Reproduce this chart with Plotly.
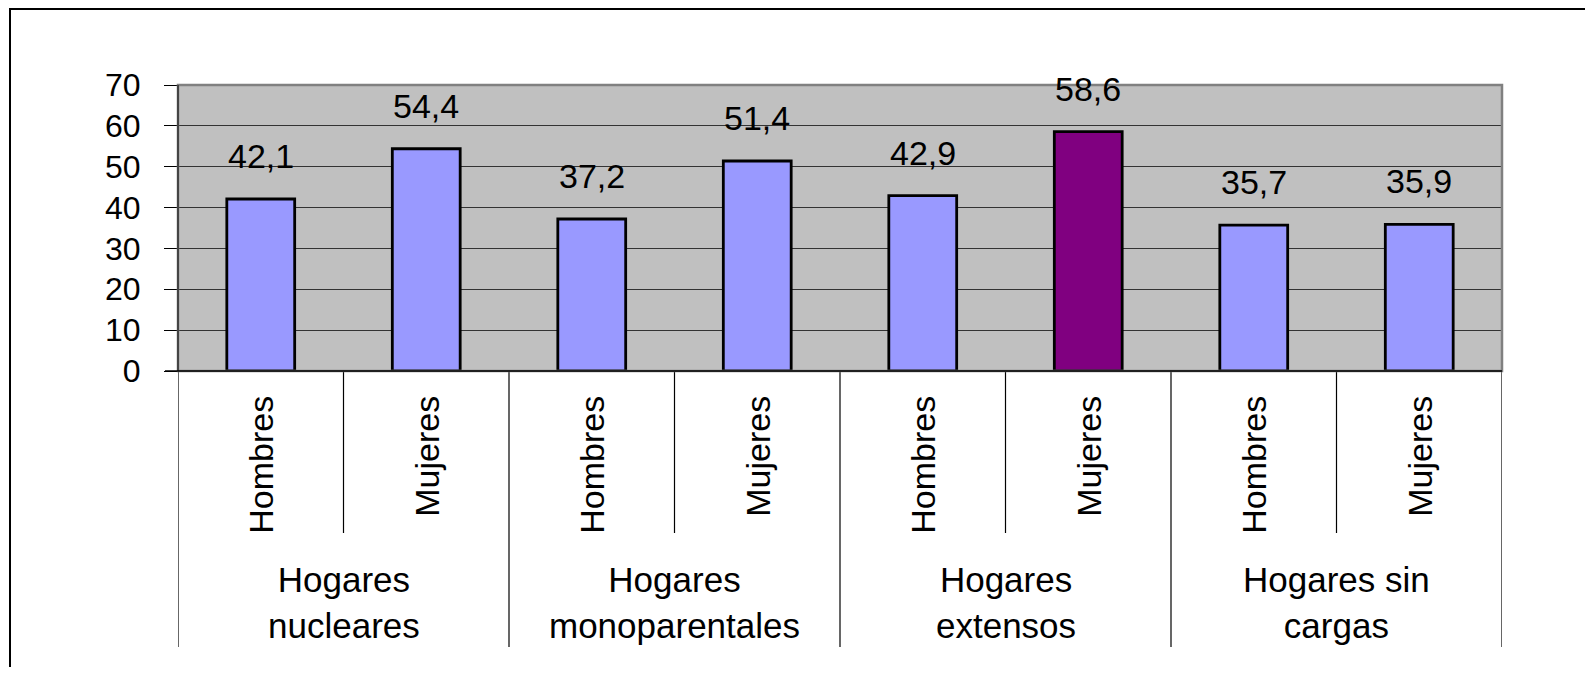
import plotly.graph_objects as go

# ---- data ----
groups = ["Hogares<br>nucleares", "Hogares<br>monoparentales", "Hogares<br>extensos", "Hogares sin<br>cargas"]
sexes = ["Hombres", "Mujeres"]
values = [42.1, 54.4, 37.2, 51.4, 42.9, 58.6, 35.7, 35.9]
value_labels = ["42,1", "54,4", "37,2", "51,4", "42,9", "58,6", "35,7", "35,9"]
y_ticks = [0, 10, 20, 30, 40, 50, 60, 70]

# ---- styles / layout (page pixel coordinates) ----
OFF = 8                       # page body margin offset of the figure div
W, H = 1582, 675 - 2 * OFF    # figure size (no scrollbars)
L, R, T, B = 178, 1502, 85, 371
FONT = "Liberation Sans, Arial, sans-serif"
bar_color = "#9999FF"
highlight_color = "#800080"
highlight_index = 5

def px_x(px):
    return (px - L) / (R - L)

def px_y(py):
    return (B - py) / (B - T)

n = len(values)
xs = list(range(n))
colors = [highlight_color if i == highlight_index else bar_color for i in xs]

fig = go.Figure()
fig.add_trace(go.Bar(
    x=xs, y=values, width=0.41,
    marker=dict(color=colors, line=dict(color="black", width=2.8)),
    hoverinfo="skip", showlegend=False,
))

annotations = []
for i in xs:
    annotations.append(dict(
        x=i, y=values[i], xref="x", yref="y", text=value_labels[i],
        showarrow=False, yanchor="bottom", xanchor="center", yshift=22,
        font=dict(family=FONT, size=34, color="black"),
    ))
    annotations.append(dict(
        x=i, y=px_y(394), xref="x", yref="paper", text=sexes[i % 2],
        showarrow=False, textangle=-90, yanchor="top", xanchor="center",
        font=dict(family=FONT, size=34, color="black"),
    ))
for g, name in enumerate(groups):
    annotations.append(dict(
        x=2 * g + 0.5, y=px_y(602), xref="x", yref="paper", text=name,
        showarrow=False, yanchor="middle", xanchor="center",
        font=dict(family=FONT, size=35, color="black"),
    ))

shapes = []
# separators below the axis
for k in range(n + 1):
    xpos = k - 0.5
    bottom = 647 if k % 2 == 0 else 533
    shapes.append(dict(type="line", xref="x", yref="paper",
                       x0=xpos, x1=xpos, y0=0, y1=px_y(bottom),
                       line=dict(color="black", width=1.2)))
# plot area border
shapes.append(dict(type="rect", xref="paper", yref="paper", x0=0, x1=1, y0=0, y1=1,
                   line=dict(color="#808080", width=2.5), layer="above"))
# y axis line
shapes.append(dict(type="line", xref="paper", yref="paper",
                   x0=0, x1=0, y0=0, y1=1,
                   line=dict(color="#303030", width=1.5), layer="above"))
# x axis line (with the zero tick extending left)
shapes.append(dict(type="line", xref="paper", yref="paper",
                   x0=px_x(165), x1=1, y0=0, y1=0,
                   line=dict(color="black", width=1.5), layer="above"))
# outer frame (its bottom edge lies below the visible page)
shapes.append(dict(type="rect", xref="paper", yref="paper",
                   x0=px_x(10), x1=px_x(1587), y0=px_y(700), y1=px_y(OFF + 1),
                   line=dict(color="black", width=2)))

fig.update_layout(
    width=W, height=H,
    margin=dict(l=L - OFF, r=W - (R - OFF), t=T - OFF, b=H - (B - OFF), pad=0),
    paper_bgcolor="white", plot_bgcolor="#C0C0C0",
    xaxis=dict(range=[-0.5, n - 0.5], showticklabels=False, showgrid=False,
               zeroline=False, ticks="", showline=False, fixedrange=True),
    yaxis=dict(range=[0, 70], tickvals=y_ticks, ticktext=[str(v) for v in y_ticks],
               showgrid=True, gridcolor="#333333", gridwidth=1,
               zeroline=False, ticks="outside", ticklen=13, tickcolor="black", tickwidth=1.2,
               showline=False, ticklabelstandoff=17,
               tickfont=dict(family=FONT, size=32, color="black"), fixedrange=True),
    annotations=annotations,
    shapes=shapes,
)

fig.write_html("out.html")
